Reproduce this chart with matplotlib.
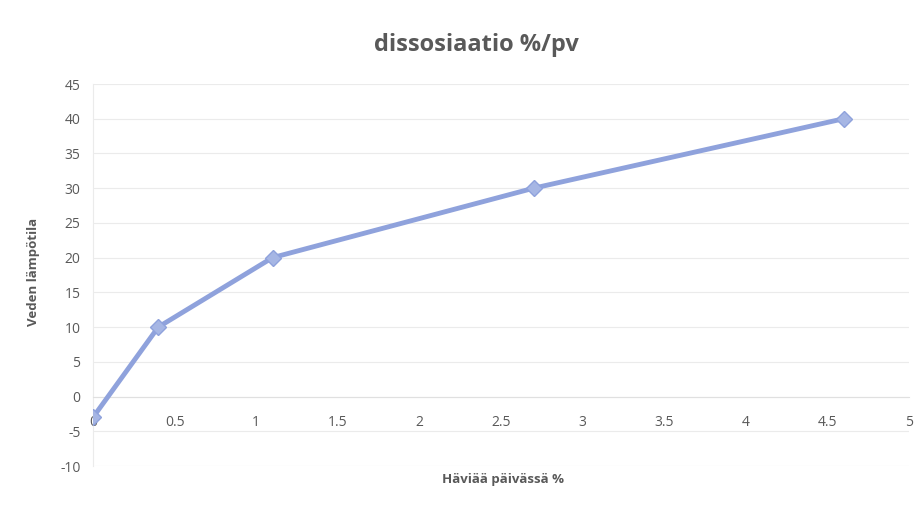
import matplotlib
matplotlib.use("Agg")
import matplotlib.pyplot as plt

# 数据
x_vals = [0, 0.4, 1.1, 2.7, 4.6]
y_vals = [-3, 10, 20, 30, 40]
x_ticks = [0, 0.5, 1, 1.5, 2, 2.5, 3, 3.5, 4, 4.5, 5]
y_ticks = [-10, -5, 0, 5, 10, 15, 20, 25, 30, 35, 40, 45]
title = 'dissosiaatio %/pv'
x_label = 'Häviää päivässä %'
y_label = 'Veden lämpötila'

plt.rcParams['font.family'] = ['Open Sans', 'DejaVu Sans']
plt.rcParams['axes.unicode_minus'] = False  # 使用普通连字符作为负号
text_color = '#595959'
line_color = '#8fa2dc'

fig = plt.figure(figsize=(9.22, 5.05), dpi=100)
ax = fig.add_axes([93 / 922, 1 - 466 / 505, 816 / 922, 382 / 505])

ax.plot(x_vals, y_vals, color=line_color, linewidth=3.5, marker='D',
        markersize=8, markerfacecolor='#a6b6e4', markeredgecolor=line_color,
        markeredgewidth=1, zorder=3)

ax.set_xlim(0, 5)
ax.set_ylim(-10, 45)
ax.set_xticks(x_ticks)
ax.set_xticklabels(['0', '0.5', '1', '1.5', '2', '2.5', '3', '3.5', '4', '4.5', '5'])
ax.set_yticks(y_ticks)

# 网格线（类似 Excel）
ax.grid(True, axis='y', color='#ebebeb', linewidth=0.8)
ax.set_axisbelow(True)

for side in ['top', 'right']:
    ax.spines[side].set_visible(False)
ax.spines['bottom'].set_position(('data', 0))
ax.spines['bottom'].set_color('#e0e0e0')
ax.spines['left'].set_color('#ebebeb')

ax.tick_params(axis='both', length=0, labelsize=10, labelcolor=text_color)
ax.tick_params(axis='x', pad=13)
ax.tick_params(axis='y', pad=9)

fig.text(476 / 922, 1 - 45 / 505, title, ha='center', va='center',
         fontsize=17, fontweight='bold', color=text_color)
fig.text(503 / 922, 1 - 480 / 505, x_label, ha='center', va='center',
         fontsize=9.5, fontweight='bold', color=text_color)
fig.text(33 / 922, 1 - 272 / 505, y_label, ha='center', va='center',
         rotation=90, fontsize=9.5, fontweight='bold', color=text_color)

fig.savefig('out.png', dpi=100)
